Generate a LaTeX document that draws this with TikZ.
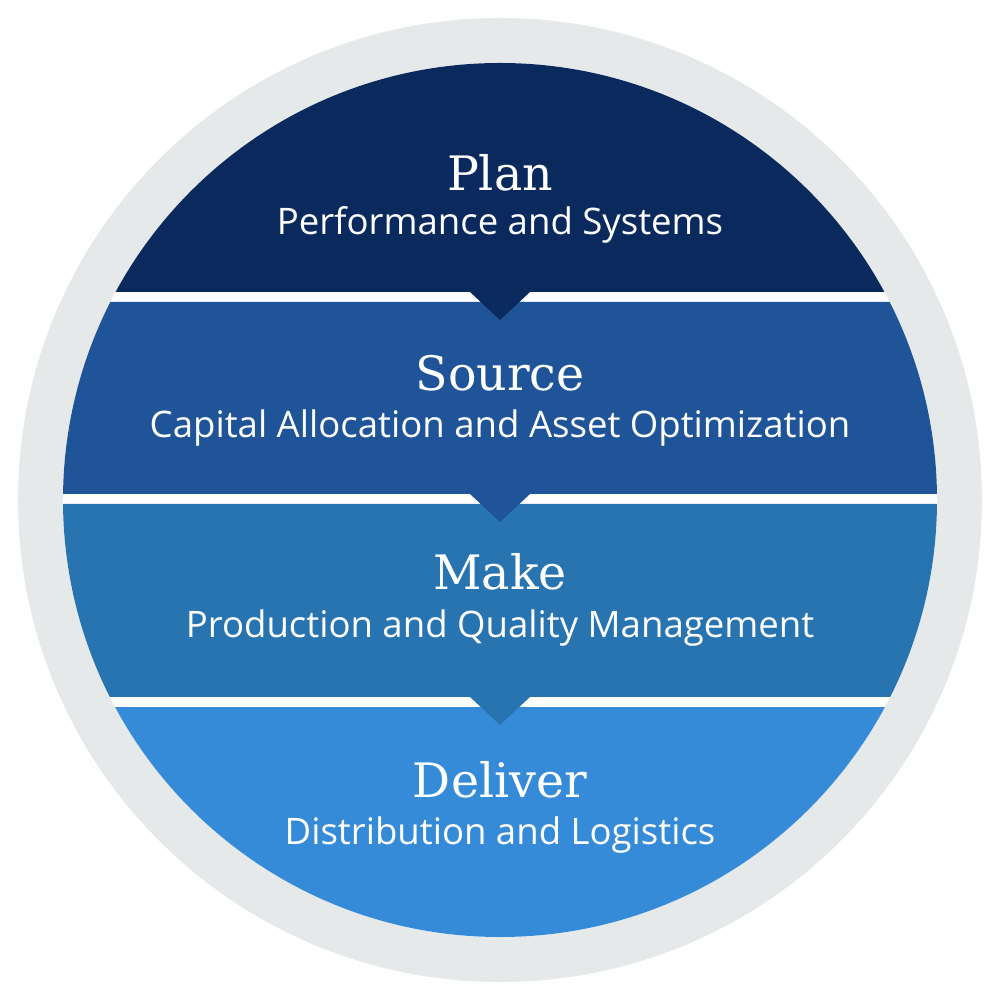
\documentclass[tikz,border=0pt]{standalone}
\usepackage{fontspec}
\setmainfont{DejaVu Serif}
\newfontfamily\subfont{Open Sans}
\usepackage{tikz}
\definecolor{ringgray}{HTML}{E6E9EA}
\definecolor{plancol}{HTML}{0A2A5E}
\definecolor{sourcecol}{HTML}{1F5498}
\definecolor{makecol}{HTML}{2874B0}
\definecolor{delivercol}{HTML}{368BD9}
\tikzset{
  title/.style={text=white, inner sep=1pt, font=\fontsize{13.5}{16}\selectfont},
  subtitle/.style={text=white, inner sep=1pt, font=\subfont\fontsize{10.4}{12}\selectfont},
}
\begin{document}
\begin{tikzpicture}
			\useasboundingbox (-5,-5) rectangle (5,5);
			\fill[ringgray] (0,0) circle (4.82);
			\fill[white] (0,0) circle (4.37);

			%% bands
			\begin{scope}
				\clip (0,0) circle (4.37);
				\fill[delivercol] (-5,-2.07) rectangle (5,-5);
				\fill[makecol] (-5,-0.04) rectangle (5,-1.97) -- (0.3,-1.97) -- (0,-2.25) -- (-0.3,-1.97) -- cycle;
				\fill[sourcecol] (-5,1.98) rectangle (5,0.06) -- (0.3,0.06) -- (0,-0.22) -- (-0.3,0.06) -- cycle;
				\fill[plancol] (-5,5) rectangle (5,2.08) -- (0.3,2.08) -- (0,1.80) -- (-0.3,2.08) -- cycle;
			\end{scope}

			%% labels
			\node[title] (plan) at (0,3.27) {Plan};
			\node[subtitle] (plansub) at (0,2.75) {Performance and Systems};
			\node[title] (source) at (0,1.27) {Source};
			\node[subtitle] (sourcesub) at (0,0.72) {Capital Allocation and Asset Optimization};
			\node[title] (make) at (0,-0.72) {Make};
			\node[subtitle] (makesub) at (0,-1.28) {Production and Quality Management};
			\node[title] (deliver) at (0,-2.80) {Deliver};
			\node[subtitle] (deliversub) at (0,-3.35) {Distribution and Logistics};
\end{tikzpicture}
\end{document}
